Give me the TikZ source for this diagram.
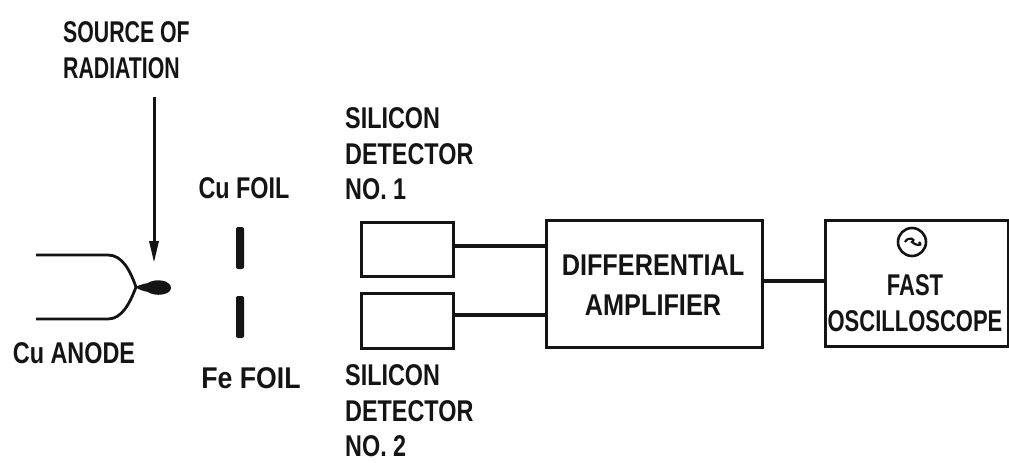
\documentclass[tikz,border=0pt]{standalone}
\usepackage{fontspec}
\setmainfont{Liberation Sans}
\begin{document}
\begin{tikzpicture}[x=1pt,y=-1pt,
  lbl/.style={font=\bfseries\fontsize{30}{35.5}\selectfont,align=left,inner sep=0pt,xscale=.78,text=black!92},
  lblc/.style={lbl,align=center},
  blk/.style={draw=black!92,line width=2.6pt,inner sep=0pt,anchor=north west},
  wire/.style={draw=black!92,line width=4.5pt},
  foil/.style={fill=black!92,rounded corners=2pt,inner sep=0pt,minimum width=8pt}]
\useasboundingbox (0,0) rectangle (1009,463);
\node[lbl,anchor=west,xscale=.91] (src) at (63,50) {SOURCE OF\\RADIATION};
\node[lbl,anchor=west] (t1) at (345,154) {SILICON\\DETECTOR\\NO. 1};
\node[lbl,anchor=west] (t2) at (345,411) {SILICON\\DETECTOR\\NO. 2};
\node[lbl] (cuf) at (244,188) {Cu FOIL};
\node[lbl,xscale=1.14] (fef) at (251,378) {Fe FOIL};
\node[lbl] (cua) at (74,353) {Cu ANODE};
\node[foil,minimum height=42pt] (f1) at (240,248) {};
\node[foil,minimum height=42pt] (f2) at (240,317) {};
\node[blk,minimum width=92pt,minimum height=54pt] (d1) at (360,221) {};
\node[blk,minimum width=92pt,minimum height=55pt] (d2) at (360,292) {};
\node[blk,minimum width=216pt,minimum height=127pt] (amp) at (545,219) {};
\node[lblc,xscale=1.08] (ampt) at (653,285) {DIFFERENTIAL\\[4pt]AMPLIFIER};
\node[blk,minimum width=183pt,minimum height=126pt] (sc) at (824,219) {};
\node[lblc,xscale=.94] (sct) at (915,303) {FAST\\OSCILLOSCOPE};
\node[circle,draw=black!92,line width=2.6pt,minimum size=28pt,inner sep=0pt] (osc) at (912,242) {};
\draw[black!92,line width=2.2pt] ([xshift=-7pt]osc.center) .. controls +(3,-6) and +(5,-3) .. (osc.center) .. controls +(2,3) and +(5,5) .. ([xshift=7pt]osc.center);
\draw[wire] (d1.east |- 0,246) -- (amp.west |- 0,246);
\draw[wire] (d2.east |- 0,315) -- (amp.west |- 0,315);
\draw[wire] (amp.east |- 0,281) -- (sc.west |- 0,281);
\coordinate (tipT) at (154,97);
\coordinate (tipB) at (154,262);
\coordinate (ua) at (36,255);
\coordinate (ub) at (36,319);
\draw[black!92,line width=3pt] (tipT) -- (154,245);
\fill[black!92] (tipB) -- (149,241) -- (159,241) -- cycle;
\draw[black!92,line width=2.8pt] (ua) -- (108,255) .. controls (122,255) and (130,270) .. (136,287) .. controls (130,303) and (122,319) .. (108,319) -- (ub);
\fill[black!92] (135,287) .. controls (140,285) and (143,284) .. (148,283) .. controls (155,278) and (171,280) .. (171,288) .. controls (171,295) and (155,297) .. (148,292) .. controls (143,291) and (140,290) .. (135,287) -- cycle;
\end{tikzpicture}
\end{document}
